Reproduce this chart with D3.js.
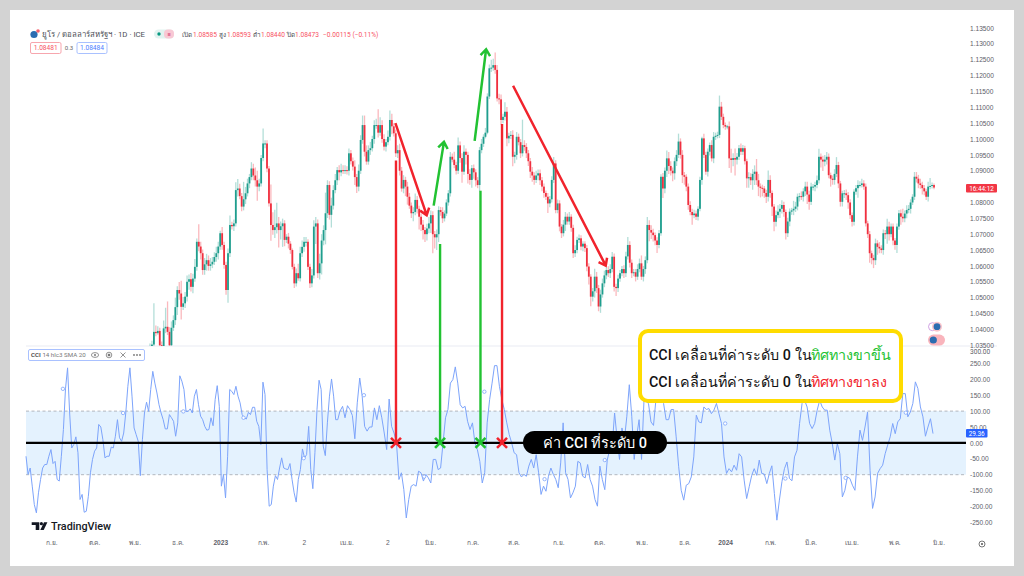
<!DOCTYPE html>
<html>
<head>
<meta charset="utf-8">
<script src="https://cdn.jsdelivr.net/npm/d3@7"></script>
<style>
  html, body { margin: 0; padding: 0; background: #d3d3d3; }
  svg { display: block; font-family: Roboto, "Noto Sans", sans-serif; }
  .axis text { fill: #5d6068; font-size: 6.6px; }
  .axis path, .axis line { display: none; }
</style>
</head>
<body>
<svg id="chart" width="1024" height="576"></svg>
<script>
// closes, one per trading day, from Nov 2022
const closes = [
  1.0345,1.0352,1.0392,1.0388,1.0395,1.0350,1.0346,1.0403,1.0408,1.0392,1.0350,1.0405,1.0429,1.0470,1.0524,1.0513,1.0471,1.0482,1.0503,1.0550,
  1.0558,1.0534,1.0560,1.0597,1.0676,1.0661,1.0640,1.0587,1.0605,1.0618,1.0600,1.0605,1.0613,1.0628,1.0640,1.0661,1.0703,1.0666,1.0603,1.0524,
  1.0640,1.0729,1.0725,1.0734,1.0839,1.0844,1.0820,1.0787,1.0810,1.0829,1.0860,1.0880,1.0907,1.0885,1.0870,1.0850,1.0860,1.0940,1.0986,1.0986,
  1.0907,1.0797,1.0729,1.0713,1.0722,1.0734,1.0713,1.0725,1.0734,1.0682,1.0692,1.0670,1.0650,1.0597,1.0545,1.0577,1.0561,1.0640,1.0660,1.0676,
  1.0676,1.0597,1.0545,1.0570,1.0724,1.0734,1.0577,1.0608,1.0680,1.0713,1.0766,1.0855,1.0761,1.0790,1.0839,1.0870,1.0902,1.0895,1.0902,1.0900,
  1.0902,1.0900,1.0955,1.0930,1.0913,1.0880,1.0850,1.0900,1.0997,1.1044,1.0960,1.0929,1.0965,1.0971,1.1000,1.1044,1.1044,1.1020,1.1044,1.1000,
  1.0976,1.0990,1.1007,1.1060,1.1040,1.1018,1.0955,1.0965,1.0900,1.0844,1.0871,1.0850,1.0818,1.0790,1.0766,1.0770,1.0808,1.0780,1.0755,1.0730,
  1.0713,1.0700,1.0718,1.0734,1.0760,1.0700,1.0690,1.0700,1.0776,1.0770,1.0750,1.0765,1.0800,1.0829,1.0944,1.0935,1.0918,1.0900,1.0980,1.0940,
  1.0897,1.0960,1.0950,1.0890,1.0871,1.0908,1.0895,1.0870,1.0855,1.0965,1.0985,1.1007,1.1020,1.1134,1.1223,1.1225,1.1233,1.1218,1.1128,1.1125,
  1.1060,1.1070,1.1086,1.1002,1.1010,1.1013,1.0944,1.0950,1.1007,1.0990,1.0955,1.0981,1.0975,1.0955,1.0930,1.0897,1.0885,1.0871,1.0885,1.0892,
  1.0870,1.0850,1.0830,1.0818,1.0797,1.0810,1.0871,1.0923,1.0776,1.0797,1.0724,1.0703,1.0730,1.0755,1.0740,1.0755,1.0720,1.0640,1.0650,1.0682,
  1.0687,1.0661,1.0670,1.0656,1.0598,1.0566,1.0503,1.0520,1.0566,1.0530,1.0472,1.0510,1.0545,1.0570,1.0587,1.0577,1.0590,1.0629,1.0534,1.0530,
  1.0560,1.0577,1.0590,1.0577,1.0630,1.0666,1.0610,1.0577,1.0580,1.0566,1.0590,1.0608,
  1.0566,1.0590,1.0618,1.0729,1.0713,1.0705,1.0697,1.0680,1.0666,1.0703,1.0881,1.0844,1.0900,1.0939,1.0915,1.0900,1.0892,1.0930,1.0950,1.0992,
  1.0950,1.0886,1.0881,1.0850,1.0792,1.0770,1.0760,1.0765,1.0755,1.0780,1.0871,1.1002,1.0950,1.0897,1.0960,1.0981,1.0939,1.1007,1.1010,1.1013,
  1.1102,1.1070,1.1044,1.1039,1.1040,1.0939,1.0934,1.0940,1.0935,1.0944,1.0971,1.0960,1.0971,1.0930,1.0876,1.0880,1.0870,1.0890,1.0897,1.0870,
  1.0850,1.0846,1.0844,1.0830,1.0818,1.0871,1.0830,1.0787,1.0739,1.0760,1.0771,1.0780,1.0792,1.0770,1.0703,1.0740,1.0771,1.0775,1.0780,1.0787,
  1.0818,1.0820,1.0818,1.0835,1.0850,1.0825,1.0802,1.0850,1.0850,1.0855,1.0870,1.0944,1.0935,1.0929,1.0935,1.0944,1.0886,1.0875,1.0871,1.0890,
  1.0918,1.0860,1.0802,1.0829,1.0829,1.0823,1.0800,1.0760,1.0739,1.0834,1.0845,1.0855,1.0855,1.0860,1.0850,1.0734,1.0700,1.0640,1.0625,1.0618,
  1.0671,1.0660,1.0655,1.0650,1.0703,1.0700,1.0724,1.0700,1.0724,1.0680,1.0666,1.0724,1.0766,1.0755,1.0750,1.0765,1.0776,1.0780,1.0800,1.0818,
  1.0881,1.0875,1.0860,1.0855,1.0845,1.0835,1.0818,1.0850,1.0852,1.0855,1.0847
];
// wick lengths above and below the body, in pips
const upperPips = [
  10,12,90,20,15,10,12,25,60,80,15,20,15,30,12,25,40,20,15,20,
  15,20,15,25,10,55,15,12,20,20,15,20,15,15,20,15,8,20,10,10,
  15,30,10,12,25,30,15,10,55,20,15,10,20,15,25,30,15,10,47,10,
  10,8,60,40,55,65,20,15,15,10,8,12,8,5,10,15,30,20,20,15,
  15,8,10,20,20,20,12,30,20,15,65,15,12,25,15,20,10,15,20,15,
  15,12,15,10,12,20,10,20,15,30,30,20,15,20,10,15,20,50,25,15,
  15,10,20,30,20,10,12,15,20,12,15,10,15,12,10,15,20,12,10,10,
  15,10,15,20,15,12,10,15,12,10,15,10,10,10,15,10,25,10,25,12,
  15,20,10,10,15,10,12,10,10,10,15,8,15,10,12,25,20,40,15,15,
  15,10,30,15,10,12,15,10,15,10,10,80,15,12,10,10,15,10,15,12,
  12,10,10,8,12,10,12,20,10,12,10,8,15,15,10,15,8,10,15,10,
  12,10,8,8,10,10,8,10,25,15,10,15,15,15,10,12,15,15,10,10,
  12,10,10,12,15,25,12,10,10,10,15,15,
  25,10,12,25,15,15,12,8,10,10,8,12,10,25,20,15,10,12,15,25,
  10,15,10,8,10,12,10,12,10,8,10,5,15,10,10,8,15,15,10,10,
  35,15,10,8,5,15,30,15,30,12,10,15,10,8,8,15,12,15,20,40,
  20,10,10,8,10,30,15,8,8,15,20,15,15,10,8,12,10,8,25,15,
  10,10,15,10,15,15,12,12,8,10,15,25,10,12,15,15,10,8,10,15,
  25,10,8,8,10,12,10,10,8,8,10,15,12,15,10,10,8,10,8,10,
  15,10,15,10,12,10,25,15,10,10,8,10,10,12,25,10,15,12,10,8,
  15,15,12,15,10,10,8,15,25,8,5
];
const lowerPips = [
  5,5,5,10,5,5,5,10,15,10,5,15,10,15,25,20,40,10,15,15,
  25,15,20,10,12,15,20,15,15,20,15,15,12,10,15,20,10,15,12,15,
  40,12,10,15,10,20,10,15,12,15,10,15,10,15,20,45,15,10,10,15,
  12,10,50,15,25,20,55,30,65,20,10,15,12,8,15,10,8,10,12,15,
  15,10,15,12,10,55,15,20,35,15,45,15,15,40,12,10,15,25,12,10,
  10,12,15,10,12,25,20,15,10,12,15,10,10,15,10,15,12,15,10,12,
  12,15,10,12,25,10,12,15,15,10,15,30,25,10,15,25,10,15,40,20,
  30,25,20,15,30,60,35,40,25,12,15,10,8,10,10,8,10,12,10,15,
  35,10,30,30,15,25,20,20,10,20,10,10,5,5,8,12,10,12,10,15,
  15,10,12,25,15,10,30,20,15,10,15,10,12,15,15,20,20,15,10,15,
  15,15,15,10,30,12,10,10,10,10,15,15,10,20,10,10,12,15,12,10,
  10,12,15,12,15,25,30,15,20,15,15,20,10,12,12,12,15,10,15,25,
  12,10,10,15,12,10,15,15,10,15,10,10,
  10,15,15,10,35,20,20,15,25,10,8,30,15,20,25,15,25,20,15,10,
  12,25,25,15,15,10,30,10,10,12,8,15,10,10,15,12,10,15,10,8,
  10,10,10,10,8,30,40,20,50,15,10,10,10,10,30,30,15,30,35,15,
  30,30,25,15,20,15,15,30,30,15,10,20,15,15,20,12,15,10,15,10,
  12,15,10,15,15,30,25,10,12,15,10,10,25,30,15,15,10,25,15,15,
  10,15,15,15,15,15,20,12,15,12,10,30,8,8,10,10,12,30,20,25,
  15,25,15,10,15,15,30,20,10,15,15,25,10,25,12,12,15,10,15,8,
  10,12,15,12,20,12,10,15,8,8,5
];
// CCI 14 readings, taken in three stretches of the chart
const cciSep22ToApr23 = [
  -42,-99,-79,-136,-194,-220,-157,-115,-79,-68,-68,-42,-21,-65,-58,-115,-120,-42,42,170,236,94,-16,-5,19,-31,-178,-162,-218,-215,-168,-94,-52,-26,-16,58,50,10,-47,-42,-42,-13,-16,21,73,16,5,31,94,178,236,147,47,26,5,-103,10,94,128,99,168,225,188,157,120,94,73,44,44,89,79,68,21,63,211,194,168,99,99,107,94,147,168,120,84,73,52,40,42,79,54,136,180,115,-136,-99,-173,-42,168,162,152,178,147,126,89,79,75,96,89,112,112,68,52,-5,191,152,-84,-199,-194,-136,-103,-115,-79,-47,-79,-82,-84,-65,-115,-157,-186,-115,-84,-19,-47,-37,52,-84,-144,-31,105,197,168,-10,-40,63,147,201,147,73,73,99
];
const cciApr23ToNov23 = [
  115,79,117,105,86,13,126,204,147,52,37,50,50,110,73,117,79,31,-21,138,52,31,0,-115,-94,-147,-236,-178,-136,-131,-136,-89,-94,-120,-99,-110,-126,-52,-52,-84,-79,0,79,105,188,199,239,188,120,110,115,68,42,63,0,-21,-58,-126,-94,63,136,188,243,243,178,136,105,63,26,0,-31,-37,-94,-107,-99,-105,-73,-52,-79,-37,-94,-162,-136,-152,-105,-79,-99,-115,-141,-63,63,-94,-115,-173,-157,-136,-58,-63,-105,-110,-68,-115,-136,-178,-199,-73,-115,-147,-54,-21,-10,94,16,-52,47,10,84,183,84,-52,21,73,-52,136
];
const cciNov23ToMay24 = [
  124,66,55,139,165,155,124,73,73,105,105,19,-75,-149,-180,-133,-128,-107,-44,87,66,63,113,105,108,92,103,124,92,61,-44,-96,-81,-91,-70,-86,-34,-44,-117,-175,-138,-102,-81,-102,-54,-96,-98,-128,-96,-72,-159,-243,-180,-122,-81,-60,-112,-119,-44,-23,61,124,134,113,61,45,61,103,134,113,103,103,40,-2,-54,-2,-34,-170,-149,-107,-112,-133,-149,-44,40,8,50,97,-86,-206,-170,-96,-81,-70,-34,-7,19,61,29,66,76,155,155,82,97,124,192,171,113,82,21,50,76,29.36
];
const cciStretchDays = [[0, 161.6], [163, 318.2], [320.5, 467]];
// hollow circles on the CCI line, about one per month
const cciMarkDays = [19, 50, 81, 112, 143, 174, 205, 236, 267, 298, 360, 391, 422, 453];
const cciMarkValues = [170, 94, 99, 79, -48, 150, -106, 161, -114, -54, 61, -112, -110, 95];

const priceTicks = [1.135, 1.13, 1.125, 1.12, 1.115, 1.11, 1.105, 1.1, 1.095, 1.09, 1.08, 1.075, 1.07, 1.065, 1.06, 1.055, 1.05, 1.045, 1.04, 1.035];
const cciTicks = [250, 200, 150, 100, 50, 0, -50, -100, -150, -200, -250];
const dateDays = [13, 35, 56, 78, 100, 122, 143, 165, 186, 208, 230, 251, 274, 295, 317, 339, 360, 383, 404, 425, 447, 470];
const dateLabels = ['ก.ย.', 'ต.ค.', 'พ.ย.', 'ธ.ค.', '2023', 'ก.พ.', '2', 'เม.ย.', '2', 'มิ.ย.', 'ก.ค.', 'ส.ค.', 'ก.ย.', 'ต.ค.', 'พ.ย.', 'ธ.ค.', '2024', 'ก.พ.', 'มี.ค.', 'เม.ย.', 'พ.ค.', 'มิ.ย.'];

// annotations: [day, price] pairs
const crossDays = [190.5, 213.2, 234, 245.1];
const crossTops = [1.0932, 1.0669, 1.0837, 1.1047];
const crossColors = ['#f1232c', '#22c232', '#22c232', '#f1232c'];
const arrowFrom = [[190.2, 1.105], [250.8, 1.1168], [209.9, 1.079], [231, 1.0994]];
const arrowTo = [[206.3, 1.076], [298.5, 1.0601], [215.2, 1.0991], [236.9, 1.1283]];
const arrowColors = ['#f1232c', '#f1232c', '#22c232', '#22c232'];

const svg = d3.select('#chart');

// scales
const xDay = d3.scaleLinear().domain([0, 467]).range([26, 933]);
const xCandle = d3.scaleLinear().domain([0, closes.length - 1]).range([150, 934]);
const yPrice = d3.scaleLinear().domain([1.035, 1.135]).range([345.2, 28]);
const yCci = d3.scaleLinear().domain([-250, 250]).range([522.4, 363.4]);

// page frame
svg.append('rect').attr('x', 10).attr('y', 10).attr('width', 1004).attr('height', 556).attr('fill', '#fff');

// CCI band
svg.append('rect')
  .attr('x', 26).attr('width', 940)
  .attr('y', yCci(100)).attr('height', yCci(-100) - yCci(100))
  .attr('fill', '#e4f2fe');
[100, -100].forEach((v) => {
  svg.append('line')
    .attr('x1', 26).attr('x2', 966)
    .attr('y1', yCci(v)).attr('y2', yCci(v))
    .attr('stroke', '#a3a6ad').attr('stroke-width', 0.8).attr('stroke-dasharray', '3,2.5');
});

// pane separator
svg.append('line').attr('x1', 26).attr('x2', 997).attr('y1', 346).attr('y2', 346).attr('stroke', '#e9ebf3');

// candles
svg.append('clipPath').attr('id', 'pane').append('rect').attr('x', 26).attr('y', 20).attr('width', 940).attr('height', 326);
const candles = closes.map((c, i) => {
  const o = i ? closes[i - 1] : c;
  return {
    i, o, c,
    h: Math.max(o, c) + upperPips[i] / 10000,
    l: Math.min(o, c) - lowerPips[i] / 10000,
  };
});
const color = d => (d.c >= d.o ? '#1f9e8e' : '#f0303f');
const gCandles = svg.append('g').attr('clip-path', 'url(#pane)');
gCandles.selectAll('.wick').data(candles).join('line')
  .attr('class', 'wick')
  .attr('x1', d => xCandle(d.i)).attr('x2', d => xCandle(d.i))
  .attr('y1', d => yPrice(d.h)).attr('y2', d => yPrice(d.l))
  .attr('stroke', color).attr('stroke-width', 1.3).attr('stroke-opacity', 0.34);
gCandles.selectAll('.body').data(candles).join('rect')
  .attr('class', 'body')
  .attr('x', d => xCandle(d.i) - 0.9).attr('width', 1.8)
  .attr('y', d => yPrice(Math.max(d.o, d.c)))
  .attr('height', d => Math.max(1, Math.abs(yPrice(d.o) - yPrice(d.c))))
  .attr('fill', color);

// CCI line
const cciPoints = [cciSep22ToApr23, cciApr23ToNov23, cciNov23ToMay24].flatMap((values, s) => {
  const dayOf = d3.scaleLinear().domain([0, values.length - 1]).range(cciStretchDays[s]);
  return values.map((v, i) => ({ day: dayOf(i), value: v }));
});
const cciLine = d3.line().x(d => xDay(d.day)).y(d => yCci(d.value));
svg.append('path').datum(cciPoints)
  .attr('d', cciLine)
  .attr('fill', 'none').attr('stroke', '#7da4fb').attr('stroke-width', 1);
svg.selectAll('.mark').data(cciMarkDays).join('circle')
  .attr('class', 'mark')
  .attr('cx', d => xDay(d))
  .attr('cy', (d, i) => yCci(cciMarkValues[i]))
  .attr('r', 1.7)
  .attr('fill', '#fff').attr('stroke', '#7da4fb').attr('stroke-width', 0.8);

// zero line
svg.append('line')
  .attr('x1', 26).attr('x2', 966)
  .attr('y1', yCci(0)).attr('y2', yCci(0))
  .attr('stroke', '#000').attr('stroke-width', 2.3);

// axes
svg.append('g').attr('class', 'axis')
  .attr('transform', 'translate(970,0)')
  .call(d3.axisRight(yPrice).tickValues(priceTicks).tickSize(0).tickPadding(0).tickFormat(d3.format('.5f')));
svg.append('g').attr('class', 'axis')
  .attr('transform', 'translate(970,0)')
  .call(d3.axisRight(yCci).tickValues(cciTicks).tickSize(0).tickPadding(0).tickFormat(d => d3.format('.2f')(d).replace('\u2212', '-')));
svg.append('text').attr('x', 970).attr('y', 354).attr('fill', '#5d6068').attr('font-size', 6.6).text('300.00');
svg.append('g').attr('class', 'axis')
  .attr('transform', 'translate(0,540)')
  .call(d3.axisBottom(xDay).tickValues(dateDays).tickSize(0).tickPadding(0)
    .tickFormat((d, i) => dateLabels[i]))
  .selectAll('text').attr('font-weight', d => (d === 100 || d === 360 ? 700 : 400));

// value tags
svg.append('rect').attr('x', 966).attr('y', 184).attr('width', 31).attr('height', 8.5).attr('rx', 1).attr('fill', '#f23645');
svg.append('text').attr('x', 981.5).attr('y', 190.5).attr('text-anchor', 'middle').attr('fill', '#fff').attr('font-size', 6.4).text('16:44:12');
svg.append('rect').attr('x', 966).attr('y', 429).attr('width', 21.5).attr('height', 8.5).attr('rx', 1).attr('fill', '#2962ff');
svg.append('text').attr('x', 976.7).attr('y', 435.6).attr('text-anchor', 'middle').attr('fill', '#fff').attr('font-size', 6.4).text('29.36');

// vertical markers and crosses
crossDays.forEach((day, i) => {
  const cx = xDay(day);
  const cy = yCci(0);
  svg.append('line')
    .attr('x1', cx).attr('x2', cx).attr('y1', yPrice(crossTops[i])).attr('y2', cy)
    .attr('stroke', crossColors[i]).attr('stroke-width', 2.4);
  [[-5, -5, 5, 5], [-5, 5, 5, -5]].forEach((s) => {
    svg.append('line')
      .attr('x1', cx + s[0]).attr('y1', cy + s[1]).attr('x2', cx + s[2]).attr('y2', cy + s[3])
      .attr('stroke', crossColors[i]).attr('stroke-width', 2.6);
  });
});

// arrows
arrowFrom.forEach((from, i) => {
  const x1 = xDay(from[0]);
  const y1 = yPrice(from[1]);
  const x2 = xDay(arrowTo[i][0]);
  const y2 = yPrice(arrowTo[i][1]);
  const angle = Math.atan2(y2 - y1, x2 - x1);
  const head = [angle + 2.5, angle - 2.5].map(a => [x2 + 8 * Math.cos(a), y2 + 8 * Math.sin(a)]);
  svg.append('path')
    .attr('d', `M${x1},${y1}L${x2},${y2}M${head[0]}L${x2},${y2}L${head[1]}`)
    .attr('fill', 'none').attr('stroke', arrowColors[i]).attr('stroke-width', 2.5);
});

// black pill label
svg.append('rect').attr('x', 523).attr('y', 431).attr('width', 144).attr('height', 23).attr('rx', 11.5).attr('fill', '#000');
svg.append('text').attr('x', 595).attr('y', 448).attr('text-anchor', 'middle').attr('fill', '#fff')
  .attr('font-size', 14.5).attr('font-weight', 500).text('ค่า CCI ที่ระดับ 0');

// yellow note box
svg.append('rect').attr('x', 640).attr('y', 331).attr('width', 261).attr('height', 70).attr('rx', 8)
  .attr('fill', '#fff').attr('stroke', '#ffdc00').attr('stroke-width', 4);
const note1 = svg.append('text').attr('x', 649).attr('y', 360).attr('font-size', 14.3).attr('font-weight', 500).attr('fill', '#111');
note1.append('tspan').text('CCI เคลื่อนที่ค่าระดับ 0 ใน');
note1.append('tspan').attr('x', 810.5).attr('fill', '#22c232').text('ทิศทางขาขึ้น');
const note2 = svg.append('text').attr('x', 649).attr('y', 387).attr('font-size', 14.3).attr('font-weight', 500).attr('fill', '#111');
note2.append('tspan').text('CCI เคลื่อนที่ค่าระดับ 0 ใน');
note2.append('tspan').attr('x', 810.5).attr('fill', '#f1232c').text('ทิศทางขาลง');

// header
svg.append('circle').attr('cx', 34).attr('cy', 34.5).attr('r', 3.6).attr('fill', '#2b6cb0');
svg.append('circle').attr('cx', 38).attr('cy', 31).attr('r', 1.8).attr('fill', '#f4606c');
svg.append('text').attr('x', 42).attr('y', 37).attr('font-size', 7.8).attr('fill', '#4a4d55').text('ยูโร / ดอลลาร์สหรัฐฯ · 1D · ICE');
svg.append('rect').attr('x', 154).attr('y', 29.5).attr('width', 20).attr('height', 9).attr('rx', 4.5).attr('fill', '#e2f3f0');
svg.append('rect').attr('x', 164).attr('y', 29.5).attr('width', 10).attr('height', 9).attr('rx', 4).attr('fill', '#f8c8d4');
svg.append('circle').attr('cx', 159).attr('cy', 34).attr('r', 1.7).attr('fill', '#089981');
svg.append('text').attr('x', 169).attr('y', 36).attr('text-anchor', 'middle').attr('font-size', 5.5).attr('fill', '#d0306a').text('≡');

const ohlcNames = ['เปิด', 'สูง', 'ต่ำ', 'ปิด'];
const ohlcValues = ['1.08585', '1.08593', '1.08440', '1.08473'];
const ohlcStarts = [182, 219, 253, 287];
const ohlcValueStarts = [193, 227, 261, 295];
ohlcNames.forEach((n, i) => {
  svg.append('text').attr('x', ohlcStarts[i]).attr('y', 36.5).attr('font-size', 6.4).attr('fill', '#4a4d55').text(n);
  svg.append('text').attr('x', ohlcValueStarts[i]).attr('y', 36.5).attr('font-size', 6.6).attr('fill', '#f7525f').text(ohlcValues[i]);
});
svg.append('text').attr('x', 323).attr('y', 36.5).attr('font-size', 6.6).attr('fill', '#f7525f').text('−0.00115 (−0.11%)');

svg.append('rect').attr('x', 30.5).attr('y', 42.5).attr('width', 30.5).attr('height', 11).attr('rx', 1.5).attr('fill', '#fff').attr('stroke', '#f7a6ae');
svg.append('text').attr('x', 45.7).attr('y', 50.4).attr('text-anchor', 'middle').attr('font-size', 6.6).attr('fill', '#f7525f').text('1.08481');
svg.append('text').attr('x', 69).attr('y', 50.4).attr('text-anchor', 'middle').attr('font-size', 6).attr('fill', '#666').text('0.3');
svg.append('rect').attr('x', 77).attr('y', 42.5).attr('width', 30).attr('height', 11).attr('rx', 1.5).attr('fill', '#fff').attr('stroke', '#a9c1ff');
svg.append('text').attr('x', 92).attr('y', 50.4).attr('text-anchor', 'middle').attr('font-size', 6.6).attr('fill', '#4c7dff').text('1.08484');

// indicator legend
svg.append('rect').attr('x', 28.5).attr('y', 349.5).attr('width', 116).attr('height', 11).attr('rx', 1.5).attr('fill', '#fff').attr('stroke', '#a9c1ff');
const legend = svg.append('text').attr('x', 31).attr('y', 357.4).attr('font-size', 6.2).attr('fill', '#777');
legend.append('tspan').attr('fill', '#333').attr('font-weight', 500).text('CCI ');
legend.append('tspan').text('14 hlc3 SMA 20');
svg.append('ellipse').attr('cx', 95).attr('cy', 355).attr('rx', 3.6).attr('ry', 2.4).attr('fill', 'none').attr('stroke', '#777').attr('stroke-width', 0.8);
svg.append('circle').attr('cx', 95).attr('cy', 355).attr('r', 1).attr('fill', '#777');
svg.append('circle').attr('cx', 109).attr('cy', 355).attr('r', 2.8).attr('fill', 'none').attr('stroke', '#777').attr('stroke-width', 0.8);
svg.append('rect').attr('x', 107.8).attr('y', 353.8).attr('width', 2.4).attr('height', 2.4).attr('fill', '#777');
svg.append('path').attr('d', 'M120.5,352.5L125.5,357.5M125.5,352.5L120.5,357.5').attr('stroke', '#777').attr('stroke-width', 0.8);
[134, 137, 140].forEach((cx) => {
  svg.append('circle').attr('cx', cx).attr('cy', 355).attr('r', 0.9).attr('fill', '#777');
});

// TradingView logo
svg.append('path').attr('d', 'M31.7,522.3H39.3V530H35.7V525H31.7Z').attr('fill', '#131722');
svg.append('circle').attr('cx', 41.4).attr('cy', 523.7).attr('r', 1.6).attr('fill', '#131722');
svg.append('path').attr('d', 'M44,522.3H47.4L43.7,530H40.3Z').attr('fill', '#131722');
svg.append('text').attr('x', 51).attr('y', 530).attr('font-size', 10.8).attr('font-weight', 500).attr('fill', '#131722').text('TradingView');

// side icons
svg.append('circle').attr('cx', 932.5).attr('cy', 326.7).attr('r', 4).attr('fill', '#fff').attr('stroke', '#c58bdc').attr('stroke-width', 0.8);
svg.append('circle').attr('cx', 937).attr('cy', 326.7).attr('r', 5).attr('fill', '#f9c4cb');
svg.append('circle').attr('cx', 937).attr('cy', 326.7).attr('r', 3.4).attr('fill', '#2b6cb0');
svg.append('rect').attr('x', 928).attr('y', 334.6).attr('width', 17).attr('height', 11).attr('rx', 5.5).attr('fill', '#f9b4bc');
svg.append('circle').attr('cx', 933.3).attr('cy', 340).attr('r', 3.6).attr('fill', '#2b6cb0');

// clock button
svg.append('circle').attr('cx', 982).attr('cy', 544).attr('r', 3).attr('fill', 'none').attr('stroke', '#555').attr('stroke-width', 0.8);
svg.append('circle').attr('cx', 982).attr('cy', 544).attr('r', 1).attr('fill', '#555');
</script>
</body>
</html>
